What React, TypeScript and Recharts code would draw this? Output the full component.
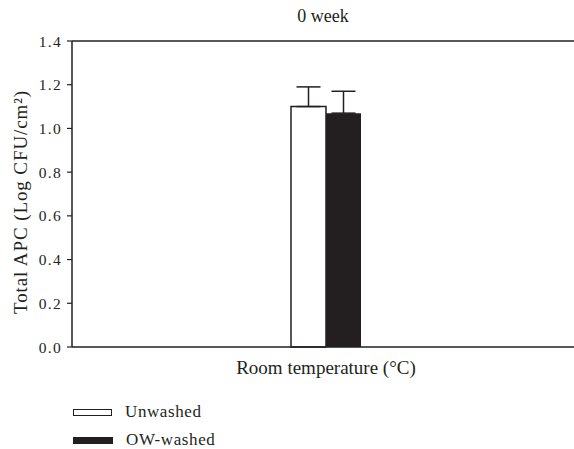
import React from 'react';
import { BarChart, Bar, XAxis, YAxis, ErrorBar, ReferenceLine, Legend } from 'recharts';

const categories = ['Room temperature (°C)'];
const unwashed = [1.1];
const unwashedErr = [0.09];
const owWashed = [1.07];
const owWashedErr = [0.1];
const yTicks = [0, 0.2, 0.4, 0.6, 0.8, 1.0, 1.2, 1.4];

const FONT = '"Liberation Serif", "DejaVu Serif", serif';
const INK = '#231f20';

// only the upper whisker is drawn in the original
const data = categories.map((name, i) => ({
  name,
  Unwashed: unwashed[i],
  unwashedErr: [0, unwashedErr[i]],
  'OW-washed': owWashed[i],
  owWashedErr: [0, owWashedErr[i]],
}));

const LegendBox = () => (
  <div style={{ height: 54, boxSizing: 'border-box', paddingTop: 6, fontFamily: FONT, fontSize: 17, letterSpacing: 0.6, color: INK }}>
    <div style={{ display: 'flex', alignItems: 'center', height: 22 }}>
      <div style={{ width: 37, height: 5, border: `1.2px solid ${INK}`, background: '#fff', marginLeft: 73 }} />
      <span style={{ marginLeft: 13 }}>Unwashed</span>
    </div>
    <div style={{ display: 'flex', alignItems: 'center', height: 22, marginTop: 6 }}>
      <div style={{ width: 40, height: 7, background: INK, marginLeft: 73 }} />
      <span style={{ marginLeft: 13 }}>OW-washed</span>
    </div>
  </div>
);

const YLabel = (props: any) => {
  const { viewBox } = props;
  const cx = viewBox.x + 20;
  const cy = viewBox.y + viewBox.height / 2 + 8;
  return (
    <text
      x={cx}
      y={cy}
      transform={`rotate(-90, ${cx}, ${cy})`}
      textAnchor="middle"
      dominantBaseline="central"
      fontFamily={FONT}
      fontSize={19}
      letterSpacing={0.9}
      fill={INK}
    >
      Total APC (Log CFU/cm²)
    </text>
  );
};

export default function App() {
  return (
    <div style={{ position: 'absolute', left: 0, top: 0, width: 574, height: 449, overflow: 'hidden', background: '#fff' }}>
      <BarChart
        width={574}
        height={449}
        data={data}
        margin={{ top: 41, right: 0, left: 0, bottom: 0 }}
        barGap={0}
      >
        <XAxis
          dataKey="name"
          height={48}
          padding={{ left: 6, right: 0 }}
          axisLine={{ stroke: INK, strokeWidth: 1.5 }}
          tickLine={false}
          tickMargin={8}
          tick={{ fontFamily: FONT, fontSize: 19, fill: INK }}
        />
        <YAxis
          width={72}
          domain={[0, 1.4]}
          ticks={yTicks}
          tickFormatter={(v: number) => v.toFixed(1)}
          axisLine={{ stroke: INK, strokeWidth: 1.5 }}
          tickLine={{ stroke: INK, strokeWidth: 1.2 }}
          tickSize={5}
          tickMargin={5}
          tick={{ fontFamily: FONT, fontSize: 15.5, fill: INK, letterSpacing: 1.3 }}
          label={(props: any) => <YLabel {...props} />}
        />
        <ReferenceLine
          y={1.4}
          stroke={INK}
          strokeWidth={1.5}
          label={{ value: '0 week', position: 'top', offset: 19, style: { fontFamily: FONT, fontSize: 18, fill: INK } }}
        />
        <Legend verticalAlign="bottom" align="left" content={() => <LegendBox />} />
        <Bar dataKey="Unwashed" fill="#fff" stroke={INK} strokeWidth={1.5} barSize={35} isAnimationActive={false}>
          <ErrorBar dataKey="unwashedErr" width={12} stroke={INK} strokeWidth={1.5} direction="y" />
        </Bar>
        <Bar dataKey="OW-washed" fill={INK} barSize={35} isAnimationActive={false}>
          <ErrorBar dataKey="owWashedErr" width={12} stroke={INK} strokeWidth={1.5} direction="y" />
        </Bar>
      </BarChart>
    </div>
  );
}
